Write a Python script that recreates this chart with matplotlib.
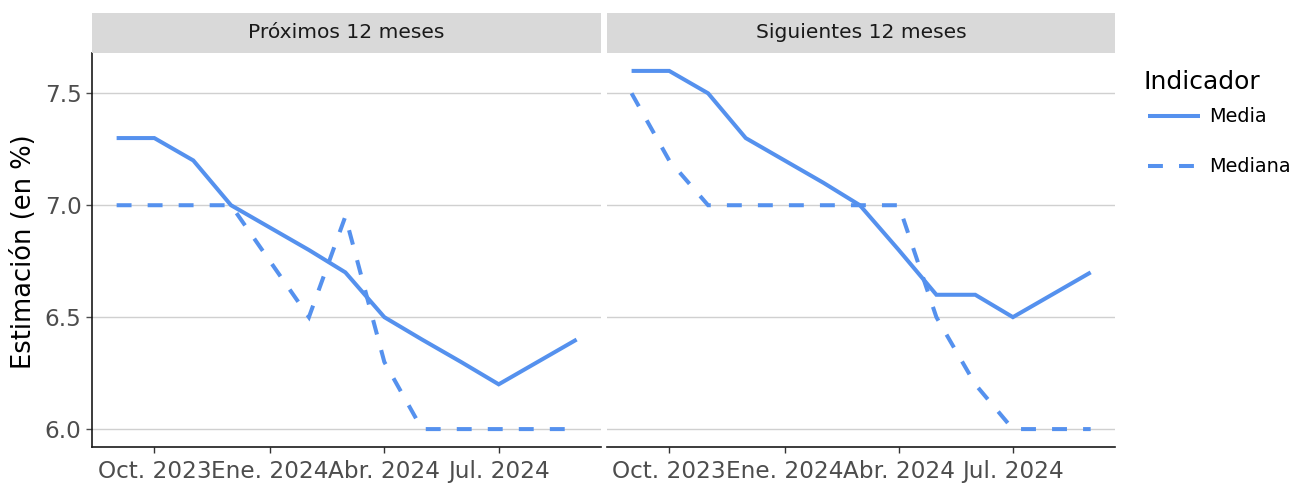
import matplotlib
matplotlib.use("Agg")
import matplotlib.pyplot as plt
from matplotlib.lines import Line2D
import pandas as pd

plt.rcParams['font.family'] = ['DejaVu Sans']

months = ["2023-09", "2023-10", "2023-11", "2023-12", "2024-01", "2024-02", "2024-03",
          "2024-04", "2024-05", "2024-06", "2024-07", "2024-08", "2024-09"]

panels = ["Próximos 12 meses", "Siguientes 12 meses"]

media_prox = [7.3, 7.3, 7.2, 7.0, 6.9, 6.8, 6.7, 6.5, 6.4, 6.3, 6.2, 6.3, 6.4]
mediana_prox = [7.0, 7.0, 7.0, 7.0, 6.75, 6.5, 6.95, 6.3, 6.0, 6.0, 6.0, 6.0, 6.0]
media_sig = [7.6, 7.6, 7.5, 7.3, 7.2, 7.1, 7.0, 6.8, 6.6, 6.6, 6.5, 6.6, 6.7]
mediana_sig = [7.5, 7.2, 7.0, 7.0, 7.0, 7.0, 7.0, 7.0, 6.5, 6.2, 6.0, 6.0, 6.0]

xtick_dates = ["2023-10-01", "2024-01-01", "2024-04-01", "2024-07-01"]
xtick_labels = ["Oct. 2023", "Ene. 2024", "Abr. 2024", "Jul. 2024"]
yticks = [6.0, 6.5, 7.0, 7.5]
legend_title = "Indicador"
series_names = ["Media", "Mediana"]
ylabel = "Estimación (en %)"

color = "#5591EE"
lw = 2.9
dash = (0, (3.7, 4.0))

W, H = 1294, 486
fig = plt.figure(figsize=(W / 100, H / 100), dpi=100)

x = pd.to_datetime([m + "-01" for m in months])
xt = pd.to_datetime(xtick_dates)
xmin = x[0] - pd.Timedelta(days=19.6)
xmax = x[-1] + pd.Timedelta(days=19.4)

bottom = 1 - 447 / H
top = 1 - 53 / H
strip_top = 1 - 13 / H
lefts = [92, 607]
rights = [601, 1115]
data = [(media_prox, mediana_prox), (media_sig, mediana_sig)]

for i in range(2):
    l = lefts[i] / W
    w = (rights[i] - lefts[i]) / W
    ax = fig.add_axes([l, bottom, w, top - bottom])
    med, mdn = data[i]
    ax.plot(x, med, color=color, lw=lw, solid_joinstyle='miter', solid_capstyle='butt', zorder=3)
    ax.plot(x, mdn, color=color, lw=lw, linestyle=dash, dash_capstyle='butt', dash_joinstyle='miter', zorder=3)
    ax.set_xlim(xmin, xmax)
    ax.set_ylim(5.92, 7.68)
    ax.set_yticks(yticks)
    ax.set_xticks(xt)
    ax.set_xticklabels(xtick_labels)
    ax.grid(axis='y', color='#d0d0d0', lw=1.0, zorder=0)
    ax.grid(axis='x', visible=False)
    for s in ['top', 'right']:
        ax.spines[s].set_visible(False)
    ax.spines['bottom'].set_color('#1a1a1a')
    ax.spines['bottom'].set_linewidth(1.2)
    if i == 0:
        ax.spines['left'].set_color('#1a1a1a')
        ax.spines['left'].set_linewidth(1.2)
        ax.set_yticklabels([f"{v:.1f}" for v in yticks])
        ax.tick_params(axis='y', length=4.5, width=1.0, color='#4d4d4d',
                       labelsize=16.7, labelcolor='#4d4d4d', pad=3)
    else:
        ax.spines['left'].set_visible(False)
        ax.tick_params(axis='y', length=0, labelleft=False)
    ax.tick_params(axis='x', length=4.5, width=1.0, color='#333333',
                   labelsize=16.7, labelcolor='#4d4d4d', pad=5)
    # strip
    sax = fig.add_axes([l, top, w, strip_top - top])
    sax.set_facecolor('#d9d9d9')
    sax.set_xticks([])
    sax.set_yticks([])
    for s in sax.spines.values():
        s.set_visible(False)
    sax.text(0.5, 0.5, panels[i], ha='center', va='center', fontsize=14.6,
             color='#1a1a1a', transform=sax.transAxes)

fig.text(24 / W, 1 - 252 / H, ylabel, rotation=90, ha='center', va='center',
         fontsize=18.5, color='black')

# legend drawn manually at figure level
fig.text(1143 / W, 1 - 82 / H, legend_title, ha='left', va='center',
         fontsize=18, color='black')
ys = [116, 166]
styles = ['-', dash]
for name, yy, st in zip(series_names, ys, styles):
    fig.add_artist(Line2D([1148 / W, 1200 / W], [1 - yy / H, 1 - yy / H],
                          transform=fig.transFigure, color=color, lw=lw,
                          linestyle=st, solid_capstyle='butt', dash_capstyle='butt'))
    fig.text(1209 / W, 1 - yy / H, name, ha='left', va='center',
             fontsize=13.9, color='black')

fig.savefig("out.png", dpi=100)
